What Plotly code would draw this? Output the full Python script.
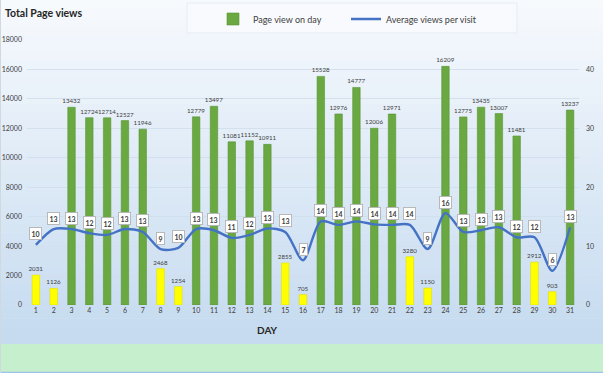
import plotly.graph_objects as go

days = list(range(1, 32))
page_views = [2031, 1126, 13432, 12724, 12714, 12527, 11946, 2468, 1254, 12779,
              13497, 11081, 11152, 10911, 2855, 705, 15528, 12976, 14777, 12006,
              12971, 3280, 1150, 16209, 12775, 13435, 13007, 11481, 2912, 903, 13237]
avg_views = [10.2, 12.9, 12.9, 12.2, 11.9, 12.9, 12.4, 9.5, 9.7, 12.9,
             12.7, 11.4, 11.9, 13.0, 12.4, 7.6, 14.2, 13.6, 14.2, 13.7,
             13.6, 13.6, 9.5, 15.6, 12.4, 12.7, 13.2, 11.5, 11.5, 5.8, 13.2]
avg_labels = [10, 13, 13, 12, 12, 13, 13, 9, 10, 13, 13, 11, 12, 13, 13, 7,
              14, 14, 14, 14, 14, 14, 9, 16, 13, 13, 13, 12, 12, 6, 13]
weekend_days = [1, 2, 8, 9, 15, 16, 22, 23, 29, 30]
left_ticks = list(range(0, 18001, 2000))
right_ticks = [0, 10, 20, 30, 40]

W, H = 603, 373
L, R, T, B = 27, 24, 40, 68

wk_x = [d for d in days if d not in weekend_days]
wk_y = [v for d, v in zip(days, page_views) if d not in weekend_days]
we_x = [d for d in days if d in weekend_days]
we_y = [v for d, v in zip(days, page_views) if d in weekend_days]

label_font = dict(size=7, color="#404040", family="Lato")
bar_font = dict(size=6.2, color="#404040", family="Lato")

fig = go.Figure()
fig.add_trace(go.Bar(
    x=wk_x, y=wk_y, name="Page view on day",
    marker=dict(color="#6aa842", line=dict(color="#5b9637", width=0.6)),
    width=0.42, text=[str(v) for v in wk_y], textposition="outside",
    textfont=bar_font, constraintext="none", cliponaxis=False,
))
fig.add_trace(go.Bar(
    x=we_x, y=we_y, name="Page view on day", showlegend=False,
    marker=dict(color="#ffff00", line=dict(color="#e0e000", width=0.6)),
    width=0.42, text=[str(v) for v in we_y], textposition="outside",
    textfont=bar_font, constraintext="none", cliponaxis=False,
))
fig.add_trace(go.Scatter(
    x=days, y=avg_views, name="Average views per visit", yaxis="y2",
    mode="lines", line=dict(color="#4472c4", width=2.4, shape="spline", smoothing=0.8),
))

for d, v, lab in zip(days, avg_views, avg_labels):
    fig.add_annotation(x=d, y=v, yref="y2", text=f"<b>{lab}</b>", showarrow=False,
                       yshift=11, font=dict(size=7, color="#404040", family="Lato"),
                       bgcolor="white", bordercolor="#b8b8b8", borderwidth=1, borderpad=1.5)

pw = W - L - R
ph = H - T - B
def px_to_paper_x(px):
    return (px - L) / pw
def px_to_paper_y(py):
    return 1 - (py - T) / ph

top = (247, 250, 253)
bot = (197, 218, 240)
n = 40
gtop, gbot = 0, 344
for i in range(n):
    y0 = gtop + (gbot - gtop) * i / n
    y1 = gtop + (gbot - gtop) * (i + 1) / n
    t = (i + 0.5) / n
    c = tuple(round(top[k] + (bot[k] - top[k]) * t) for k in range(3))
    fig.add_shape(type="rect", xref="paper", yref="paper", layer="below",
                  x0=px_to_paper_x(0), x1=px_to_paper_x(W),
                  y0=px_to_paper_y(y1 + 0.5), y1=px_to_paper_y(y0),
                  line=dict(width=0), fillcolor=f"rgb{c}")
fig.add_shape(type="rect", xref="paper", yref="paper", layer="below",
              x0=px_to_paper_x(0), x1=px_to_paper_x(W),
              y0=px_to_paper_y(H), y1=px_to_paper_y(344),
              line=dict(width=0), fillcolor="#c6efce")
fig.add_shape(type="line", xref="paper", yref="paper", layer="below",
              x0=px_to_paper_x(0), x1=px_to_paper_x(W),
              y0=px_to_paper_y(372.5), y1=px_to_paper_y(372.5),
              line=dict(width=1.5, color="#9dc3e6"))
fig.add_shape(type="line", xref="paper", yref="paper", layer="below",
              x0=px_to_paper_x(0.5), x1=px_to_paper_x(0.5),
              y0=px_to_paper_y(0), y1=px_to_paper_y(H),
              line=dict(width=1, color="#d0d8e0"))
fig.add_shape(type="rect", xref="paper", yref="paper", layer="below",
              x0=px_to_paper_x(187), x1=px_to_paper_x(517),
              y0=px_to_paper_y(33), y1=px_to_paper_y(3),
              line=dict(width=1, color="#e6edf5"), fillcolor="rgba(248,250,253,1)")

fig.add_annotation(xref="paper", yref="paper", x=px_to_paper_x(3), y=px_to_paper_y(13),
                   xanchor="left", yanchor="middle", showarrow=False,
                   text="<b>Total Page views</b>", font=dict(size=10.5, color="#262626", family="Lato"))
fig.add_annotation(xref="paper", yref="paper", x=px_to_paper_x(267), y=px_to_paper_y(330),
                   xanchor="center", yanchor="middle", showarrow=False,
                   text="<b>DAY</b>", font=dict(size=10, color="#262626", family="Lato"))

fig.update_layout(
    width=W, height=H,
    margin=dict(l=L, r=R, t=T, b=B, autoexpand=False),
    paper_bgcolor="rgba(0,0,0,0)", plot_bgcolor="rgba(0,0,0,0)",
    showlegend=True, barmode="overlay",
    legend=dict(orientation="h", xref="container", yref="container",
                x=213 / W, y=1 - 19 / H, xanchor="left", yanchor="middle",
                font=dict(size=9, color="#404040", family="Lato"),
                bgcolor="rgba(0,0,0,0)", itemwidth=30,
                entrywidth=88, entrywidthmode="pixels"),
    xaxis=dict(range=[0.5, 31.5], tickmode="array", tickvals=days,
               ticktext=[str(d) for d in days], showgrid=False, zeroline=False,
               tickfont=label_font, ticks="", automargin=False),
    yaxis=dict(range=[0, 18000], tickvals=left_ticks, ticktext=[str(v) for v in left_ticks],
               showgrid=True, gridcolor="rgba(210,222,236,0.9)", gridwidth=1, zeroline=False,
               tickfont=label_font, ticklabelstandoff=4, automargin=False),
    yaxis2=dict(range=[0, 45], overlaying="y", side="right", tickvals=right_ticks,
                ticktext=[str(v) for v in right_ticks], showgrid=False, zeroline=False,
                tickfont=label_font, ticklabelstandoff=6, automargin=False),
)

fig.write_html("out.html", config={"displayModeBar": False},
               post_script="document.body.style.margin='0';document.body.style.overflow='hidden';")
